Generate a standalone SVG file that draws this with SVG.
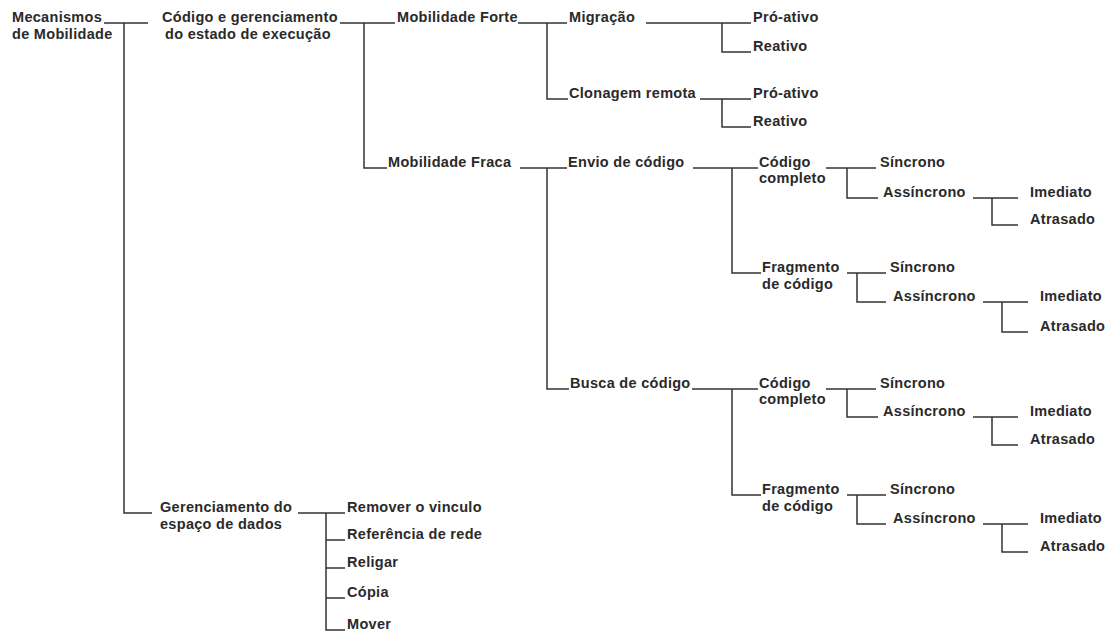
<svg xmlns="http://www.w3.org/2000/svg" width="1110" height="632" viewBox="0 0 1110 632">
  <style>
    .t { font-family: "Liberation Sans", Arial, sans-serif; font-weight: bold; font-size: 14.5px; fill: #2a2a2a; letter-spacing: 0.3px; }
    .c { fill: none; stroke: #333333; stroke-width: 1.5; }
  </style>
  <rect width="1110" height="632" fill="#ffffff"/>

  <!-- tree connectors -->
  <g id="connectors" class="c">
    <!-- root -->
    <path d="M104 23H148 M124 23V513H152"/>
    <!-- code and execution state -->
    <path d="M340 23H395 M364 23V168H387"/>
    <!-- strong mobility -->
    <path d="M518 23H567 M547 23V99H568"/>
    <path d="M646 23H751 M722 23V52H751"/>
    <path d="M700 99H751 M722 99V127H751"/>
    <!-- weak mobility -->
    <path d="M520 168H567 M547 168V389H569"/>
    <path d="M693 168H758 M732 168V273H761"/>
    <path d="M692 389H758 M732 389V495H761"/>
    <!-- complete code (send) -->
    <path d="M826 168H876 M847 168V198H878"/>
    <path d="M973 198H1018 M992 198V225H1018"/>
    <!-- code fragment (send) -->
    <path d="M847 273H886 M857 273V302H886"/>
    <path d="M983 302H1028 M1002 302V332H1028"/>
    <!-- complete code (fetch) -->
    <path d="M826 389H876 M847 389V417H878"/>
    <path d="M973 417H1018 M992 417V445H1018"/>
    <!-- code fragment (fetch) -->
    <path d="M847 495H886 M857 495V524H886"/>
    <path d="M983 524H1028 M1002 524V552H1028"/>
    <!-- data space management -->
    <path d="M298 513H345 M326 513V630H345 M326 540H345 M326 568H345 M326 598H345"/>
  </g>

  <g id="n-root"><text class="t" x="12" y="22">Mecanismos</text><text class="t" x="12" y="39">de Mobilidade</text></g>
  <g id="n-codigo-estado"><text class="t" x="162" y="22">Código e gerenciamento</text><text class="t" x="165" y="39">do estado de execução</text></g>
  <g id="n-forte"><text class="t" x="397" y="22">Mobilidade Forte</text></g>
  <g id="n-migracao"><text class="t" x="569" y="22">Migração</text></g>
  <g id="n-mig-pro"><text class="t" x="753" y="22">Pró-ativo</text></g>
  <g id="n-mig-rea"><text class="t" x="753" y="51">Reativo</text></g>
  <g id="n-clonagem"><text class="t" x="569" y="98">Clonagem remota</text></g>
  <g id="n-clo-pro"><text class="t" x="753" y="98">Pró-ativo</text></g>
  <g id="n-clo-rea"><text class="t" x="753" y="126">Reativo</text></g>

  <g id="n-fraca"><text class="t" x="388" y="167">Mobilidade Fraca</text></g>
  <g id="n-envio"><text class="t" x="568" y="167">Envio de código</text></g>
  <g id="n-env-comp"><text class="t" x="759" y="167">Código</text><text class="t" x="759" y="183">completo</text></g>
  <g id="n-env-comp-sin"><text class="t" x="880" y="167">Síncrono</text></g>
  <g id="n-env-comp-ass"><text class="t" x="883" y="197">Assíncrono</text></g>
  <g id="n-env-comp-ime"><text class="t" x="1030" y="197">Imediato</text></g>
  <g id="n-env-comp-atr"><text class="t" x="1030" y="224">Atrasado</text></g>
  <g id="n-env-frag"><text class="t" x="762" y="272">Fragmento</text><text class="t" x="762" y="289">de código</text></g>
  <g id="n-env-frag-sin"><text class="t" x="890" y="272">Síncrono</text></g>
  <g id="n-env-frag-ass"><text class="t" x="893" y="301">Assíncrono</text></g>
  <g id="n-env-frag-ime"><text class="t" x="1040" y="301">Imediato</text></g>
  <g id="n-env-frag-atr"><text class="t" x="1040" y="331">Atrasado</text></g>

  <g id="n-busca"><text class="t" x="570" y="388">Busca de código</text></g>
  <g id="n-bus-comp"><text class="t" x="759" y="388">Código</text><text class="t" x="759" y="404">completo</text></g>
  <g id="n-bus-comp-sin"><text class="t" x="880" y="388">Síncrono</text></g>
  <g id="n-bus-comp-ass"><text class="t" x="883" y="416">Assíncrono</text></g>
  <g id="n-bus-comp-ime"><text class="t" x="1030" y="416">Imediato</text></g>
  <g id="n-bus-comp-atr"><text class="t" x="1030" y="444">Atrasado</text></g>
  <g id="n-bus-frag"><text class="t" x="762" y="494">Fragmento</text><text class="t" x="762" y="511">de código</text></g>
  <g id="n-bus-frag-sin"><text class="t" x="890" y="494">Síncrono</text></g>
  <g id="n-bus-frag-ass"><text class="t" x="893" y="523">Assíncrono</text></g>
  <g id="n-bus-frag-ime"><text class="t" x="1040" y="523">Imediato</text></g>
  <g id="n-bus-frag-atr"><text class="t" x="1040" y="551">Atrasado</text></g>

  <g id="n-dados"><text class="t" x="160" y="512">Gerenciamento do</text><text class="t" x="160" y="529">espaço de dados</text></g>
  <g id="n-remover"><text class="t" x="347" y="512">Remover o vinculo</text></g>
  <g id="n-referencia"><text class="t" x="347" y="539">Referência de rede</text></g>
  <g id="n-religar"><text class="t" x="347" y="567">Religar</text></g>
  <g id="n-copia"><text class="t" x="347" y="597">Cópia</text></g>
  <g id="n-mover"><text class="t" x="347" y="629">Mover</text></g>
</svg>
